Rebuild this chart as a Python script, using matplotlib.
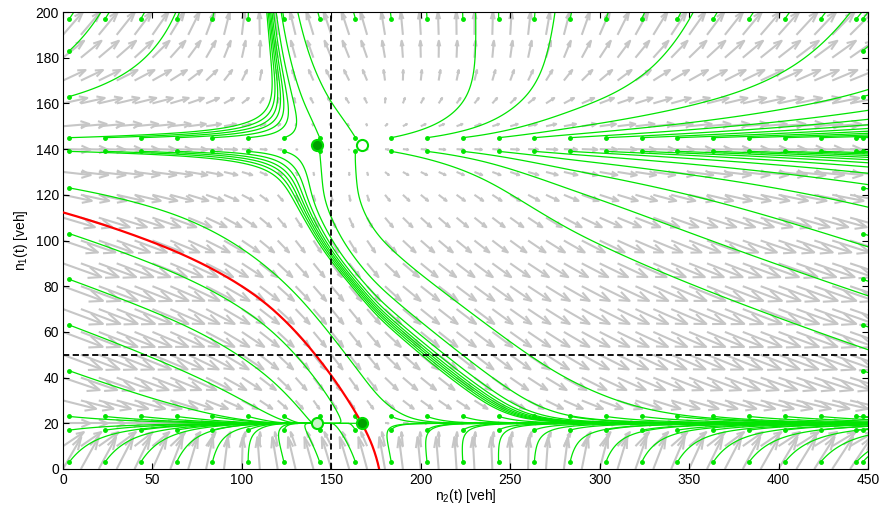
import numpy as np
import matplotlib
matplotlib.use("Agg")
import matplotlib.pyplot as plt
from matplotlib.collections import LineCollection

plt.rcParams['font.family'] = ['Liberation Sans Narrow', 'Liberation Sans', 'DejaVu Sans']
plt.rcParams['mathtext.fontset'] = 'custom'
plt.rcParams['mathtext.rm'] = 'Liberation Sans'
plt.rcParams['mathtext.default'] = 'regular'
plt.rcParams['lines.scale_dashes'] = False

# ---------------- two-region accumulation model ----------------
# normalised outflow of region 1, G1(n1)/q1
n1_knots = [0, 3, 10, 20, 35, 55, 80, 105, 125, 142, 150, 160, 170, 180, 190, 200]
g1_knots = [0.0, 0.21, 0.56, 1.0, 1.34, 1.47, 1.46, 1.34, 1.14, 1.0, 0.93, 0.83, 0.67, 0.47, 0.27, 0.08]
# inflow level into region 2 (demand + transfer from region 1)
n1p_knots = [0, 3, 10, 20, 35, 55, 80, 105, 125, 142, 160, 180, 200]
p_knots = [0.79, 0.80, 0.85, 1.0, 1.18, 1.28, 1.29, 1.14, 1.015, 1.0, 0.93, 0.855, 0.815]
# normalised outflow of region 2, G2(n2)/G2(142)
n2_knots = [0, 25, 50, 75, 100, 125, 142, 154.5, 167, 185, 210, 243, 270, 300, 375, 450]
h_knots = [0.37, 0.40, 0.46, 0.60, 0.77, 0.94, 1.0, 1.012, 1.0, 0.895, 0.85, 0.815, 0.74, 0.60, 0.40, 0.28]
rate2 = 1.74

# equilibrium accumulations
eq_n2 = [142, 167, 142, 167]
eq_n1 = [142, 142, 20, 20]
eq_face = ['#00a000', 'white', '#c8f5c8', '#00a000']

# starting accumulations of the plotted trajectories
start_cols = [3.5 + 20 * k for k in range(23)]
rows_full = [3, 17, 23, 139, 145, 197]
rows_edge = [3, 17, 23, 43, 63, 83, 103, 123, 139, 145, 163, 183, 197]
left_col, right_col = 3.5, 447

# quiver grid
grid_n2 = np.arange(0, 451, 10)
grid_n1 = np.arange(0, 201, 10)

# critical accumulations
crit_n2 = 150
crit_n1 = 50

X_MAX, Y_MAX = 450, 200


def pchip(xk, yk):
    xk = np.asarray(xk, float)
    yk = np.asarray(yk, float)
    hk = np.diff(xk)
    dk = np.diff(yk) / hk
    m = np.zeros_like(yk)
    for i in range(1, len(xk) - 1):
        if dk[i - 1] * dk[i] > 0:
            w1 = 2 * hk[i] + hk[i - 1]
            w2 = hk[i] + 2 * hk[i - 1]
            m[i] = (w1 + w2) / (w1 / dk[i - 1] + w2 / dk[i])
    m[0], m[-1] = dk[0], dk[-1]

    def f(x):
        x = np.clip(np.asarray(x, float), xk[0], xk[-1])
        i = np.clip(np.searchsorted(xk, x) - 1, 0, len(hk) - 1)
        t = (x - xk[i]) / hk[i]
        t2, t3 = t * t, t * t * t
        return ((2 * t3 - 3 * t2 + 1) * yk[i] + (t3 - 2 * t2 + t) * hk[i] * m[i]
                + (-2 * t3 + 3 * t2) * yk[i + 1] + (t3 - t2) * hk[i] * m[i + 1])
    return f


g1 = pchip(n1_knots, g1_knots)
p12 = pchip(n1p_knots, p_knots)
h2 = pchip(n2_knots, h_knots)


def field(n2, n1):
    dn1 = 1.0 - g1(n1)
    dn2 = rate2 * (p12(n1) - h2(n2))
    return dn2, dn1


# ---------------- figure ----------------
fig = plt.figure(figsize=(8.83, 5.12), dpi=100)
ax = fig.add_axes([63 / 883, 43 / 512, 805 / 883, 457 / 512])
ax.set_xlim(0, X_MAX)
ax.set_ylim(0, Y_MAX)

# pixel scale of the data axes, used for arc-length stepping
SX = 805 / X_MAX
SY = 457 / Y_MAX


def direction(P, sign):
    f2, f1 = field(P[:, 0], P[:, 1])
    sp = np.hypot(f2 * SX, f1 * SY)
    inv = sign / np.maximum(sp, 1e-12)
    return np.column_stack([f2 * inv, f1 * inv]), sp


def trace(starts, sign=1.0, ds=0.8, nmax=3500, sinks=()):
    P = np.array(starts, float)
    n = len(P)
    hist = np.full((nmax + 1, n, 2), np.nan)
    hist[0] = P
    alive = np.ones(n, bool)
    for step in range(1, nmax + 1):
        idx = np.where(alive)[0]
        if idx.size == 0:
            break
        Q = P[idx]
        k1, sp = direction(Q, sign)
        k2, _ = direction(Q + 0.5 * ds * k1, sign)
        k3, _ = direction(Q + 0.5 * ds * k2, sign)
        k4, _ = direction(Q + ds * k3, sign)
        Qn = Q + ds * (k1 + 2 * k2 + 2 * k3 + k4) / 6
        slow = sp < 0.003
        Qn[slow] = Q[slow]
        P[idx] = Qn
        hist[step, idx[~slow]] = Qn[~slow]
        out = (Qn[:, 0] < 0) | (Qn[:, 0] > X_MAX) | (Qn[:, 1] < 0) | (Qn[:, 1] > Y_MAX)
        near = np.zeros(len(idx), bool)
        for a, b in sinks:
            near |= np.hypot((Qn[:, 0] - a) * SX, (Qn[:, 1] - b) * SY) < 1.5
        alive[idx[slow | out | near]] = False
    paths = []
    for i in range(n):
        col = hist[:, i]
        paths.append(col[~np.isnan(col[:, 0])])
    return paths


# --- direction field (MATLAB-style quiver with open heads) ---
GX, GY = np.meshgrid(grid_n2, grid_n1)
U, V = field(GX, GY)
delx = X_MAX / np.sqrt(GX.size)
dely = Y_MAX / np.sqrt(GX.size)
ln = np.sqrt((U ** 2 + V ** 2) / (delx ** 2 + dely ** 2))
sc = 1.6 / ln.max()
U = U * sc
V = V * sc
alpha, beta = 0.33, 0.33
tx, ty = GX + U, GY + V
b1x = tx - alpha * (U + beta * V)
b1y = ty - alpha * (V - beta * U)
b2x = tx - alpha * (U - beta * V)
b2y = ty - alpha * (V + beta * U)
shafts = np.stack([np.column_stack([GX.ravel(), GY.ravel()]),
                   np.column_stack([tx.ravel(), ty.ravel()])], axis=1)
heads = np.stack([np.column_stack([b1x.ravel(), b1y.ravel()]),
                  np.column_stack([tx.ravel(), ty.ravel()]),
                  np.column_stack([b2x.ravel(), b2y.ravel()])], axis=1)
arrow_col = '#c6c6c6'
ax.add_collection(LineCollection(shafts, colors=arrow_col, linewidths=1.5, zorder=1))
ax.add_collection(LineCollection(heads, colors=arrow_col, linewidths=1.5, zorder=1))

# --- trajectories ---
starts = [(c, r) for r in rows_full for c in start_cols]
starts += [(left_col, r) for r in rows_edge if r not in rows_full]
starts += [(right_col, r) for r in rows_edge]
stable_nodes = [(142, 20)]
paths = trace(starts, sign=1.0, sinks=stable_nodes)
green = '#00e400'
ax.add_collection(LineCollection(paths, colors=green, linewidths=0.9, zorder=2))
st = np.array(starts)
ax.plot(st[:, 0], st[:, 1], 'o', ms=2.5, color=green, mec=green, zorder=3)

# --- separatrix: stable manifold of the saddle at (167, 20) ---
sx0, sy0 = 167.0, 20.0
e = 1e-3
f2a, f1a = field(sx0 + e, sy0)
f2b, f1b = field(sx0 - e, sy0)
d22 = (f2a - f2b) / (2 * e)
f2c, f1c = field(sx0, sy0 + e)
f2d, f1d = field(sx0, sy0 - e)
d21 = (f2c - f2d) / (2 * e)
d11 = (f1c - f1d) / (2 * e)
vec = np.array([d21, d11 - d22])
vec = vec / np.hypot(vec[0] * SX, vec[1] * SY)
branches = trace([(sx0 + 0.6 * vec[0], sy0 + 0.6 * vec[1]),
                  (sx0 - 0.6 * vec[0], sy0 - 0.6 * vec[1])], sign=-1.0, ds=0.6)
sep = np.vstack([branches[0][::-1], [[sx0, sy0]], branches[1]])
ax.plot(sep[:, 0], sep[:, 1], color='red', lw=1.6, zorder=4)

# --- critical accumulations ---
ax.axvline(crit_n2, color='black', lw=1.3, ls=(0, (4.5, 2.5)), zorder=5)
ax.axhline(crit_n1, color='black', lw=1.3, ls=(0, (4.5, 2.5)), zorder=5)

# --- equilibria ---
for x, y, fc in zip(eq_n2, eq_n1, eq_face):
    ax.plot(x, y, 'o', ms=8, mfc=fc, mec='#00dd00', mew=1.5, zorder=6)

ax.set_xticks(np.arange(0, 451, 50))
ax.set_yticks(np.arange(0, 201, 20))
ax.tick_params(direction='in', top=True, right=True, length=4, width=0.8,
               labelsize=10, pad=3)
for sp_ in ax.spines.values():
    sp_.set_linewidth(0.8)
ax.set_xlabel(r'n$_2$(t) [veh]', fontsize=10, labelpad=0)
ax.set_ylabel(r'n$_1$(t) [veh]', fontsize=10, labelpad=4)

fig.savefig('out.png', dpi=100)
